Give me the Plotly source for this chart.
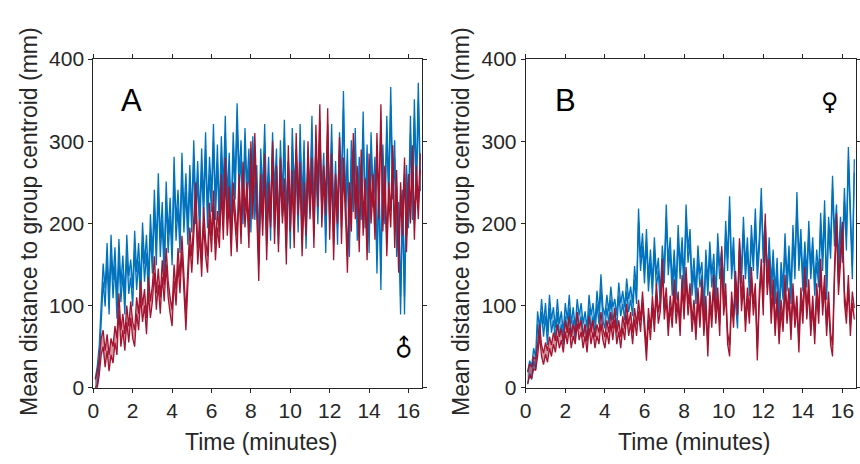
import plotly.graph_objects as go

# mean distance to group centroid (mm), one value every 0.1 min starting at 0.1 min
male_blue = [
    0, 15, 40, 95, 140, 110, 165, 100, 175, 120,
    160, 95, 170, 115, 150, 100, 175, 125, 145, 110,
    180, 130, 165, 115, 190, 140, 175, 120, 200, 150,
    230, 160, 250, 170, 215, 140, 240, 175, 220, 160,
    270, 190, 230, 175, 275, 200, 250, 185, 260, 200,
    290, 210, 265, 195, 280, 215, 300, 205, 270, 225,
    310, 215, 285, 200, 295, 230, 320, 220, 275, 195,
    300, 240, 335, 250, 290, 210, 305, 235, 280, 200,
    295, 215, 260, 165, 280, 225, 310, 210, 270, 190,
    300, 230, 280, 185, 290, 220, 315, 200, 265, 180,
    305, 235, 275, 200, 310, 215, 290, 180, 270, 225,
    320, 195, 285, 210, 300, 230, 275, 175, 290, 220,
    310, 200, 265, 185, 300, 240, 350, 215, 280, 170,
    290, 225, 305, 190, 270, 215, 325, 205, 285, 175,
    300, 230, 270, 150, 250, 130, 285, 210, 320, 235,
    355, 240, 290, 170, 215, 100, 230, 100, 260, 205,
    320, 215, 340, 240, 360, 250,
]
male_red = [
    0, 10, 25, 50, 60, 35, 55, 30, 50, 40,
    65, 50, 105, 60, 80, 55, 90, 65, 95, 70,
    60, 100, 80, 120, 90, 110, 75, 125, 95, 115,
    150, 105, 135, 100, 145, 115, 160, 120, 100, 85,
    140, 110, 160, 125, 175, 120, 80, 135, 185, 150,
    200, 240, 160, 195, 145, 210, 170, 150, 215, 175,
    230, 165, 205, 180, 250, 190, 270, 195, 235, 170,
    240, 200, 175, 250, 185, 265, 205, 240, 180, 290,
    215, 300, 225, 140, 250, 195, 275, 165, 240, 205,
    290, 185, 260, 175, 270, 210, 245, 160, 285, 200,
    255, 180, 300, 220, 265, 170, 240, 195, 290, 215,
    270, 180, 310, 230, 335, 205, 260, 220, 330, 190,
    275, 165, 250, 210, 295, 185, 270, 225, 150, 240,
    200, 300, 215, 260, 175, 280, 195, 245, 165, 275,
    210, 250, 190, 300, 215, 335, 200, 260, 170, 240,
    205, 285, 180, 255, 150, 240, 195, 270, 175, 250,
    210, 285, 190, 260, 215, 275,
]
female_blue = [
    12, 25, 18, 40, 30, 85, 65, 100, 70, 95,
    60, 105, 75, 90, 65, 100, 70, 85, 60, 95,
    75, 105, 70, 90, 65, 100, 80, 95, 70, 85,
    65, 105, 80, 95, 70, 110, 85, 130, 90, 80,
    105, 85, 115, 90, 100, 80, 120, 95, 110, 90,
    125, 100, 115, 95, 140, 110, 210, 150, 180, 135,
    185, 125, 160, 120, 175, 130, 150, 105, 165, 135,
    215, 145, 175, 120, 160, 115, 190, 140, 175, 125,
    215, 160, 185, 120, 150, 110, 165, 130, 145, 90,
    160, 120, 170, 130, 155, 105, 180, 140, 160, 115,
    195, 150, 225, 140, 175, 110, 80, 170, 135, 200,
    140, 175, 120, 190, 150, 210, 140, 175, 235, 160,
    195, 130, 175, 120, 160, 110, 150, 85, 145, 115,
    180, 125, 165, 110, 190, 140, 230, 150, 185, 125,
    170, 130, 195, 140, 175, 120, 160, 130, 205, 150,
    220, 115, 200, 165, 250, 180, 215, 145, 200, 160,
    235, 175, 285, 200, 140, 270,
]
female_red = [
    12, 22, 18, 30, 28, 45, 70, 45, 35, 48,
    38, 55, 45, 60, 50, 70, 55, 65, 50, 75,
    60, 80, 55, 70, 60, 85, 65, 75, 55, 70,
    50, 80, 60, 75, 55, 70, 60, 85, 65, 55,
    75, 60, 85, 65, 90, 60, 75, 55, 80, 65,
    95, 70, 85, 60, 90, 70, 100, 75, 110, 70,
    40, 90, 65, 105, 75, 120, 85, 100, 150, 90,
    115, 70, 105, 80, 125, 85, 110, 70, 130, 90,
    140, 95, 120, 75, 100, 65, 115, 80, 125, 70,
    105, 45, 110, 80, 130, 85, 115, 70, 165, 95,
    120, 60, 45, 110, 80, 135, 95, 175, 100, 130,
    75, 115, 85, 140, 95, 120, 40, 110, 150, 95,
    205, 120, 150, 85, 125, 70, 110, 60, 100, 75,
    130, 85, 115, 65, 120, 80, 105, 50, 115, 85,
    140, 90, 125, 70, 105, 60, 120, 85, 150, 95,
    130, 70, 110, 60, 45, 140, 205, 120, 160, 195,
    110, 85, 130, 70, 110, 90,
]
# half width of the shaded band (s.e.m., mm)
sem = {'male_blue': 11, 'male_red': 10, 'female_blue': 8, 'female_red': 7}

BLUE = '#0072BD'
RED = '#A2142F'
BLUE_FILL = 'rgba(0,114,189,0.45)'
RED_FILL = 'rgba(162,20,47,0.45)'
AXIS = '#262626'
FONT = 'Liberation Sans, Arial, sans-serif'


def band(fig, vals, err, color, fill, xa, ya):
    t = [round(0.1 * (i + 1), 1) for i in range(len(vals))]
    lo = [v - err if v - err > 0 else 0 for v in vals]
    hi = [v + err for v in vals]
    fig.add_trace(go.Scatter(x=t, y=lo, mode='lines', line=dict(color=color, width=1.3),
                             xaxis=xa, yaxis=ya, showlegend=False, hoverinfo='skip'))
    fig.add_trace(go.Scatter(x=t, y=hi, mode='lines', line=dict(color=color, width=1.3),
                             fill='tonexty', fillcolor=fill,
                             xaxis=xa, yaxis=ya, showlegend=False, hoverinfo='skip'))


fig = go.Figure()
band(fig, male_blue, sem['male_blue'], BLUE, BLUE_FILL, 'x', 'y')
band(fig, male_red, sem['male_red'], RED, RED_FILL, 'x', 'y')
band(fig, female_blue, sem['female_blue'], BLUE, BLUE_FILL, 'x2', 'y2')
band(fig, female_red, sem['female_red'], RED, RED_FILL, 'x2', 'y2')

ax = dict(showline=True, linecolor=AXIS, linewidth=1, mirror='ticks', ticks='outside',
          ticklen=4, tickcolor=AXIS, showgrid=False, zeroline=False, automargin=False,
          tickfont=dict(family=FONT, size=21, color=AXIS))
xax = dict(ax, range=[0, 16.67], dtick=2, tick0=0)
yax = dict(ax, range=[0, 400], dtick=100, tick0=0)

fig.update_layout(
    width=860, height=464,
    margin=dict(l=0, r=0, t=0, b=0, autoexpand=False),
    plot_bgcolor='white', paper_bgcolor='white',
    xaxis=dict(xax, domain=[0.1085, 0.4903], anchor='y'),
    yaxis=dict(yax, domain=[0.1644, 0.8728], anchor='x'),
    xaxis2=dict(xax, domain=[0.6113, 0.995], anchor='y2'),
    yaxis2=dict(yax, domain=[0.1644, 0.8728], anchor='x2'),
)

lab = dict(family=FONT, size=23, color=AXIS)
ytitle = 'Mean distance to group centroid (mm)'
annots = [
    dict(x=261 / 860, y=1 - 442 / 464, text='Time (minutes)', font=lab),
    dict(x=694 / 860, y=1 - 442 / 464, text='Time (minutes)', font=lab),
    dict(x=29 / 860, y=1 - 222 / 464, text=ytitle, textangle=-90, font=lab),
    dict(x=461 / 860, y=1 - 222 / 464, text=ytitle, textangle=-90, font=lab),
    dict(x=131 / 860, y=1 - 101 / 464, text='A', font=dict(family=FONT, size=31, color='black')),
    dict(x=565 / 860, y=1 - 101 / 464, text='B', font=dict(family=FONT, size=31, color='black')),
    dict(x=404 / 860, y=1 - 348 / 464, text='♂', textangle=-45,
         font=dict(family='DejaVu Sans', size=24, color='black')),
    dict(x=830 / 860, y=1 - 102 / 464, text='♀',
         font=dict(family='DejaVu Sans', size=24, color='black')),
]
for a in annots:
    a.update(xref='paper', yref='paper', showarrow=False, xanchor='center', yanchor='middle')
fig.update_layout(annotations=annots)

# the page's default body margin would push the 860px figure out of the window
fig.write_html("out.html", config={'displayModeBar': False},
               post_script="document.body.style.margin='0';document.body.style.overflow='hidden';")
